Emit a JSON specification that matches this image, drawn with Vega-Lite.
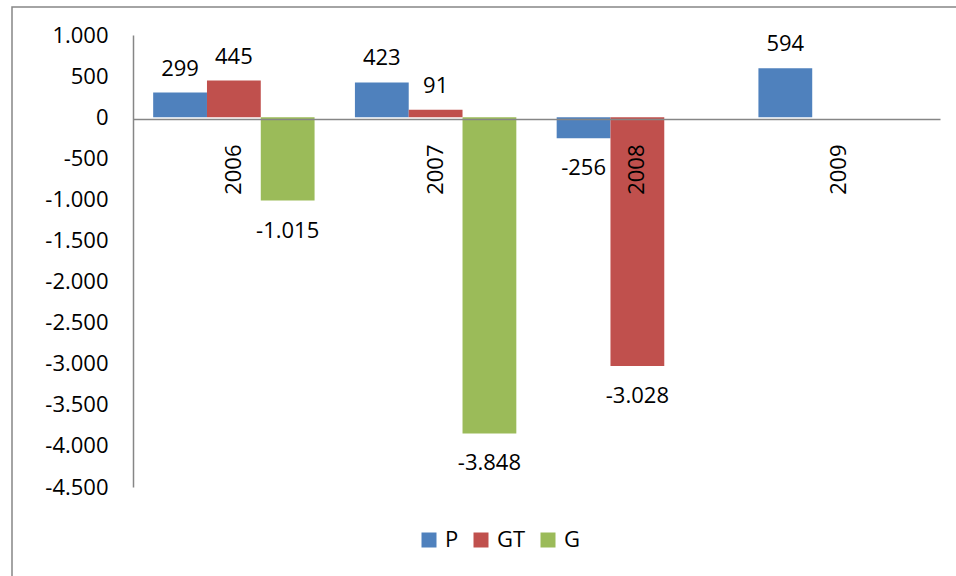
{
  "$schema": "https://vega.github.io/schema/vega-lite/v6.json",
  "width": 950,
  "height": 575,
  "autosize": {"type": "none"},
  "padding": {"left": 12, "top": 7, "right": 0, "bottom": 0},
  "background": "white",
  "config": {
    "locale": {"number": {"decimal": ",", "thousands": ".", "grouping": [3], "currency": ["", " €"], "minus": "-"}},
    "view": {"stroke": "#868686", "strokeWidth": 1.5},
    "font": "Open Sans"
  },
  "data": {
    "values": [
      {"year": "2006", "series": "P", "value": 299},
      {"year": "2006", "series": "GT", "value": 445},
      {"year": "2006", "series": "G", "value": -1015},
      {"year": "2007", "series": "P", "value": 423},
      {"year": "2007", "series": "GT", "value": 91},
      {"year": "2007", "series": "G", "value": -3848},
      {"year": "2008", "series": "P", "value": -256},
      {"year": "2008", "series": "GT", "value": -3028},
      {"year": "2009", "series": "P", "value": 594}
    ]
  },
  "encoding": {
    "x": {
      "field": "year",
      "type": "nominal",
      "scale": {"domain": ["2006", "2007", "2008", "2009"], "range": [121, 928], "paddingInner": 0.2, "paddingOuter": 0.1},
      "axis": {
        "orient": "bottom",
        "offset": -463,
        "labelAngle": -90,
        "labelPadding": 25,
        "ticks": false,
        "tickSize": 0,
        "domainColor": "#868686",
        "domainWidth": 1.5,
        "labelFontSize": 22,
        "labelColor": "#000000",
        "title": null,
        "zindex": 1
      }
    },
    "xOffset": {
      "field": "series",
      "type": "nominal",
      "scale": {"domain": ["P", "GT", "G"], "paddingInner": 0, "paddingOuter": 0}
    },
    "y": {
      "field": "value",
      "type": "quantitative",
      "scale": {"domain": [-4500, 1000], "range": [480, 28], "nice": false, "zero": true},
      "axis": {
        "values": [-4500, -4000, -3500, -3000, -2500, -2000, -1500, -1000, -500, 0, 500, 1000],
        "format": ",d",
        "offset": -121,
        "grid": false,
        "ticks": false,
        "tickSize": 0,
        "labelPadding": 25,
        "domainColor": "#868686",
        "domainWidth": 1.5,
        "labelFontSize": 22,
        "labelColor": "#000000",
        "title": null,
        "zindex": 1
      }
    }
  },
  "layer": [
    {
      "mark": {"type": "bar"},
      "encoding": {
        "color": {
          "field": "series",
          "type": "nominal",
          "scale": {"domain": ["P", "GT", "G"], "range": ["#4F81BD", "#C0504D", "#9BBB59"]},
          "legend": {
            "orient": "none",
            "legendX": 406,
            "legendY": 522,
            "direction": "horizontal",
            "title": null,
            "symbolType": "square",
            "symbolSize": 225,
            "symbolStrokeWidth": 0,
            "labelFontSize": 22,
            "labelColor": "#000000",
            "labelOffset": 5,
            "columnPadding": 11,
            "padding": 0
          }
        }
      }
    },
    {
      "transform": [{"filter": "datum.value > 0"}],
      "mark": {"type": "text", "baseline": "alphabetic", "dy": -17, "fontSize": 22, "color": "#000000"},
      "encoding": {"text": {"field": "value", "type": "quantitative", "format": ",d"}}
    },
    {
      "transform": [{"filter": "datum.value < 0"}],
      "mark": {"type": "text", "baseline": "top", "dy": 20, "fontSize": 22, "color": "#000000"},
      "encoding": {"text": {"field": "value", "type": "quantitative", "format": ",d"}}
    }
  ]
}
